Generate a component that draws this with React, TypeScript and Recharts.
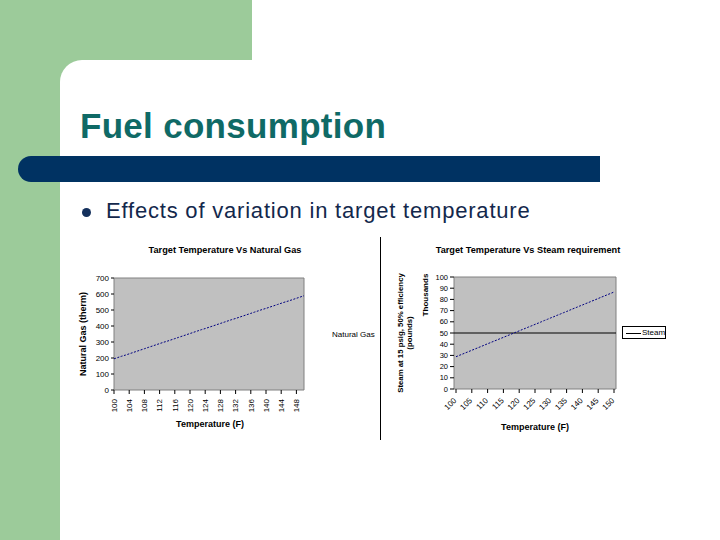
import React from 'react';
import { LineChart, Line, XAxis, YAxis, CartesianGrid, ReferenceLine } from 'recharts';

const temperatures = [
  100, 101, 102, 103, 104, 105, 106, 107, 108, 109,
  110, 111, 112, 113, 114, 115, 116, 117, 118, 119,
  120, 121, 122, 123, 124, 125, 126, 127, 128, 129,
  130, 131, 132, 133, 134, 135, 136, 137, 138, 139,
  140, 141, 142, 143, 144, 145, 146, 147, 148, 149, 150,
];

const naturalGasTherm = [
  195, 203, 211, 218, 226, 234, 242, 250, 258, 266,
  274, 282, 290, 298, 305, 313, 321, 329, 337, 345,
  353, 361, 369, 377, 384, 392, 400, 408, 416, 424,
  432, 440, 447, 455, 463, 471, 479, 487, 495, 503,
  510, 518, 526, 534, 542, 550, 557, 565, 573, 581, 589,
];

const steamThousands = [
  28.8, 30.0, 31.1, 32.3, 33.4, 34.6, 35.7, 36.9, 38.0, 39.2,
  40.4, 41.5, 42.7, 43.8, 45.0, 46.1, 47.3, 48.4, 49.6, 50.8,
  51.9, 53.1, 54.2, 55.4, 56.5, 57.7, 58.8, 60.0, 61.2, 62.3,
  63.5, 64.6, 65.8, 66.9, 68.1, 69.2, 70.4, 71.6, 72.7, 73.9,
  75.0, 76.2, 77.3, 78.5, 79.6, 80.8, 82.0, 83.1, 84.3, 85.4, 86.6,
];

const gasTicks = [0, 100, 200, 300, 400, 500, 600, 700];
const steamTicks = [0, 10, 20, 30, 40, 50, 60, 70, 80, 90, 100];
const steamReference = 50;

const gasData = temperatures.map((t, i) => ({ temp: t, gas: naturalGasTherm[i] }));
const steamData = temperatures.map((t, i) => ({ temp: t, steam: steamThousands[i] }));

const FONT = '"Liberation Sans", Arial, Helvetica, sans-serif';

const edgeH = (p: any) => {
  const o = p.offset;
  return [o.top, o.top + o.height];
};
const edgeV = (p: any) => {
  const o = p.offset;
  return [o.left, o.left + o.width];
};

const GasTick = (props: any) => {
  const { x, y, payload } = props;
  return (
    <text
      x={x}
      y={y}
      transform={`rotate(-90 ${x} ${y})`}
      textAnchor="end"
      dy="0.35em"
      fontSize={8}
      fontFamily={FONT}
      fill="#000"
    >
      {payload.value}
    </text>
  );
};

const SteamTick = (props: any) => {
  const { x, y, payload } = props;
  const ax = x - 1;
  return (
    <text
      x={ax}
      y={y}
      transform={`rotate(-45 ${ax} ${y})`}
      textAnchor="end"
      dy="0.35em"
      fontSize={8}
      fontFamily={FONT}
      fill="#000"
    >
      {payload.value}
    </text>
  );
};

const abs = (s: React.CSSProperties): React.CSSProperties => ({ position: 'absolute', ...s });

const small: React.CSSProperties = {
  fontFamily: FONT,
  fontSize: 8.5,
  color: '#000',
  whiteSpace: 'nowrap',
  lineHeight: '10px',
};

export default function App() {
  return (
    <div
      style={{
        position: 'absolute',
        left: 0,
        top: 0,
        width: 720,
        height: 540,
        background: '#ffffff',
        overflow: 'hidden',
        fontFamily: FONT,
      }}
    >
      {/* slide decoration */}
      <div style={abs({ left: 0, top: 0, width: 252, height: 60, background: '#9ccb9a' })} />
      <div style={abs({ left: 0, top: 0, width: 60, height: 540, background: '#9ccb9a' })} />
      <div style={abs({ left: 60, top: 60, width: 30, height: 30, background: '#9ccb9a' })} />
      <div
        style={abs({
          left: 60,
          top: 60,
          width: 660,
          height: 480,
          background: '#ffffff',
          borderTopLeftRadius: 22,
        })}
      />
      <div
        style={abs({
          left: 80,
          top: 108,
          fontSize: 35,
          lineHeight: '35px',
          fontWeight: 'bold',
          color: '#0f6a66',
          letterSpacing: 0.3,
          whiteSpace: 'nowrap',
        })}
      >
        Fuel consumption
      </div>
      <div
        style={abs({
          left: 18,
          top: 156,
          width: 582,
          height: 26,
          background: '#003262',
          borderRadius: '13px 0 0 13px',
        })}
      />
      <div
        style={abs({
          left: 81.5,
          top: 208,
          width: 9,
          height: 9,
          borderRadius: '50%',
          background: '#14305c',
        })}
      />
      <div
        style={abs({
          left: 106,
          top: 199.5,
          fontSize: 22,
          lineHeight: '22px',
          color: '#13284c',
          letterSpacing: 0.8,
          whiteSpace: 'nowrap',
        })}
      >
        Effects of variation in target temperature
      </div>

      {/* left chart */}
      <div style={abs({ ...small, left: 120, top: 245, width: 210, textAlign: 'center', fontWeight: 'bold', fontSize: 9.2 })}>
        Target Temperature Vs Natural Gas
      </div>
      <div
        style={abs({
          ...small,
          left: 83,
          top: 334,
          fontWeight: 'bold',
          fontSize: 9,
          transform: 'translate(-50%, -50%) rotate(-90deg)',
        })}
      >
        Natural Gas (therm)
      </div>
      <div style={abs({ ...small, left: 160, top: 419, width: 100, textAlign: 'center', fontWeight: 'bold', fontSize: 9 })}>
        Temperature (F)
      </div>
      <div style={abs({ ...small, left: 332, top: 330, fontSize: 8 })}>Natural Gas</div>
      <div style={abs({ left: 70, top: 240 })}>
        <LineChart width={250} height={200} data={gasData} margin={{ top: 38, right: 16, bottom: 0, left: 0 }}>
          <CartesianGrid
            fill="#c0c0c0"
            stroke="#808080"
            horizontalCoordinatesGenerator={edgeH}
            verticalCoordinatesGenerator={edgeV}
          />
          <XAxis
            dataKey="temp"
            type="category"
            interval={3}
            height={50}
            axisLine={false}
            tickLine={{ stroke: '#000' }}
            tickSize={4}
            tickMargin={5}
            tick={<GasTick />}
          />
          <YAxis
            type="number"
            domain={[0, 700]}
            ticks={gasTicks}
            interval={0}
            width={44}
            axisLine={false}
            tickLine={{ stroke: '#000' }}
            tickSize={3}
            tickMargin={2}
            tick={{ fontSize: 8, fill: '#000', fontFamily: FONT }}
          />
          <Line
            dataKey="gas"
            stroke="#000080"
            strokeWidth={1}
            strokeDasharray="2 1.5"
            dot={false}
            isAnimationActive={false}
          />
        </LineChart>
      </div>

      {/* separator */}
      <div style={abs({ left: 380, top: 237, width: 1, height: 203, background: '#000' })} />

      {/* right chart */}
      <div style={abs({ ...small, left: 418, top: 245, width: 220, textAlign: 'center', fontWeight: 'bold', fontSize: 9.2 })}>
        Target Temperature Vs Steam requirement
      </div>
      <div
        style={abs({
          ...small,
          left: 405,
          top: 333,
          fontSize: 7.8,
          fontWeight: 'bold',
          textAlign: 'center',
          lineHeight: '9px',
          transform: 'translate(-50%, -50%) rotate(-90deg)',
        })}
      >
        Steam at 15 psig, 50% efficiency
        <br />
        (pounds)
      </div>
      <div
        style={abs({
          ...small,
          left: 426,
          top: 295,
          fontSize: 8,
          fontWeight: 'bold',
          transform: 'translate(-50%, -50%) rotate(-90deg)',
        })}
      >
        Thousands
      </div>
      <div style={abs({ ...small, left: 485, top: 422, width: 100, textAlign: 'center', fontWeight: 'bold', fontSize: 9 })}>
        Temperature (F)
      </div>
      <div
        style={abs({
          left: 622,
          top: 326,
          width: 44,
          height: 13,
          border: '1px solid #000',
          boxSizing: 'border-box',
          background: '#fff',
        })}
      >
        <div style={abs({ left: 3, top: 5.5, width: 15, height: 1, background: '#000' })} />
        <div style={abs({ ...small, left: 19, top: 1, fontSize: 8 })}>Steam</div>
      </div>
      <div style={abs({ left: 380, top: 240 })}>
        <LineChart width={260} height={200} data={steamData} margin={{ top: 37, right: 24, bottom: 0, left: 0 }}>
          <CartesianGrid
            fill="#c0c0c0"
            stroke="#808080"
            horizontalCoordinatesGenerator={edgeH}
            verticalCoordinatesGenerator={edgeV}
          />
          <XAxis
            dataKey="temp"
            type="category"
            interval={4}
            height={51}
            padding={{ left: 2, right: 2 }}
            axisLine={false}
            tickLine={{ stroke: '#000' }}
            tickSize={4}
            tickMargin={6}
            tick={<SteamTick />}
          />
          <YAxis
            type="number"
            domain={[0, 100]}
            ticks={steamTicks}
            interval={0}
            width={74}
            axisLine={false}
            tickLine={{ stroke: '#000' }}
            tickSize={4}
            tickMargin={2}
            tick={{ fontSize: 7.5, fill: '#000', fontFamily: FONT }}
          />
          <ReferenceLine y={steamReference} stroke="#000" strokeWidth={1.2} ifOverflow="extendDomain" />
          <Line
            dataKey="steam"
            stroke="#000080"
            strokeWidth={1}
            strokeDasharray="2 1.5"
            dot={false}
            isAnimationActive={false}
          />
        </LineChart>
      </div>
    </div>
  );
}
